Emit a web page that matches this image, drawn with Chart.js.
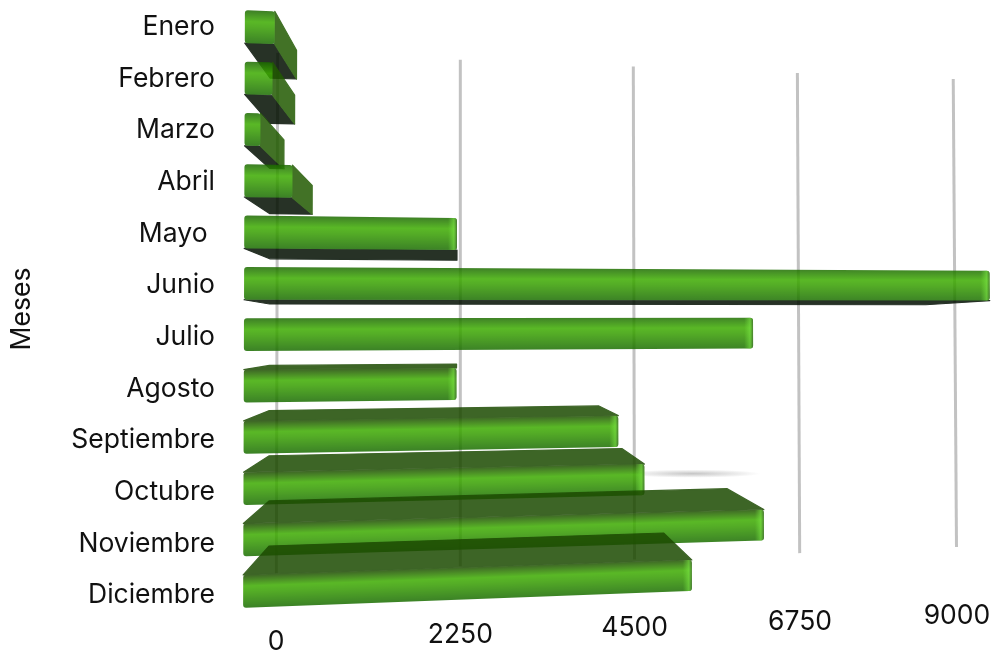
<!DOCTYPE html>
<html>
<head>
<meta charset="utf-8">
<style>
  body { margin: 0; background: #fff; }
</style>
<script src="https://cdn.jsdelivr.net/npm/chart.js@4"></script>
</head>
<body>
<canvas id="myChart" width="1000" height="650"></canvas>
<script>
const months = ['Enero', 'Febrero', 'Marzo', 'Abril', 'Mayo ', 'Junio', 'Julio', 'Agosto', 'Septiembre', 'Octubre', 'Noviembre', 'Diciembre'];
const sales = [304, 283, 161, 489, 2208, 8303, 5486, 2203, 3960, 4249, 5601, 4778];
const xTicks = [0, 2250, 4500, 6750, 9000];
const axisMax = 9000;

const fontName = 'Inter';
const fontSize = 26.5;
const frontWidth = 892;      // on screen width of 0..axisMax on the front plane
const foreshorten = 0.112;
const keystone = 0.000014;
const vanish = { x: 457, y: 335 };
const barDepth = 0.12;
const wallDepth = 0.155;
const labelDrop = 69;
const labelRight = 215;
const labelDrift = 0.007;

function makePoint(area) {
	const midY = (area.top + area.bottom) / 2;
	return (px, py, depth = 0, drop = 0) => {
		const t = (px - area.left) / area.width;
		const w = 1 + foreshorten * t;
		let x = area.left + frontWidth * t / w;
		let y = midY + (py - midY) / w;
		x += (vanish.x - x) * depth;
		y += (vanish.y - y) * depth;
		y += drop;
		x = vanish.x + (x - vanish.x) * (1 + keystone * (y - midY));
		return { x, y };
	};
}

function poly(ctx, pts, fill) {
	ctx.beginPath();
	pts.forEach((p, i) => (i ? ctx.lineTo(p.x, p.y) : ctx.moveTo(p.x, p.y)));
	ctx.closePath();
	ctx.fillStyle = fill;
	ctx.fill();
	// closes the hairline between neighbouring faces
	ctx.strokeStyle = fill;
	ctx.lineWidth = 1.2;
	ctx.lineJoin = 'round';
	ctx.stroke();
}

function roundedPath(ctx, pts, r) {
	ctx.beginPath();
	const n = pts.length;
	ctx.moveTo((pts[n - 1].x + pts[0].x) / 2, (pts[n - 1].y + pts[0].y) / 2);
	pts.forEach((p, i) => {
		const next = pts[(i + 1) % n];
		ctx.arcTo(p.x, p.y, next.x, next.y, r);
	});
	ctx.closePath();
}

function drawBar(ctx, bar, pt) {
	const top = bar.y - bar.height / 2;
	const bot = bar.y + bar.height / 2;
	const fTL = pt(bar.base, top), fTR = pt(bar.x, top), fBL = pt(bar.base, bot), fBR = pt(bar.x, bot);
	const bTL = pt(bar.base, top, barDepth), bTR = pt(bar.x, top, barDepth), bBL = pt(bar.base, bot, barDepth), bBR = pt(bar.x, bot, barDepth);
	const topFace = fTL.y > vanish.y;
	if (topFace) poly(ctx, [fTL, bTL, bTR, fTR], 'rgb(28,74,0)');
	if (fBL.y < vanish.y) poly(ctx, [fBL, bBL, bBR, fBR], 'rgb(2,15,0)');
	if (fTR.x < vanish.x - 1) poly(ctx, [fTR, bTR, bBR, fBR], 'rgb(33,90,0)');

	// front face, shading runs across the tilted bar
	const slope = ((fTR.y + fBR.y) - (fTL.y + fBL.y)) / 2 / Math.max(1, fTR.x - fTL.x);
	const h = (fBL.y - fTL.y) / (1 + slope * slope);
	const grad = ctx.createLinearGradient(fTL.x, fTL.y, fTL.x - slope * h, fTL.y + h);
	grad.addColorStop(0, topFace ? 'rgb(28,74,0)' : 'rgb(28,105,0)');
	grad.addColorStop(0.34, 'rgb(61,172,0)');
	grad.addColorStop(0.5, 'rgb(55,159,0)');
	grad.addColorStop(1, 'rgb(26,108,0)');
	roundedPath(ctx, [fTL, fTR, fBR, fBL], 3);
	ctx.fillStyle = grad;
	ctx.fill();

	// lit rim at the open end of the long bars
	if (fTR.x > vanish.x - 1) {
		ctx.save();
		roundedPath(ctx, [fTL, fTR, fBR, fBL], 3);
		ctx.clip();
		const x1 = Math.max(fTR.x, fBR.x);
		const rim = ctx.createLinearGradient(x1 - 9, 0, x1, 0);
		rim.addColorStop(0, 'rgba(90,220,30,0)');
		rim.addColorStop(0.65, 'rgba(100,225,35,0.6)');
		rim.addColorStop(1, 'rgba(30,80,10,0.8)');
		ctx.fillStyle = rim;
		ctx.fillRect(x1 - 9, Math.min(fTR.y, fTL.y), 9, fBL.y - fTL.y + 20);
		ctx.restore();
	}
}

const bars3d = {
	id: 'bars3d',
	beforeDatasetsDraw(chart) {
		const { ctx, chartArea: area, scales } = chart;
		const pt = makePoint(area);
		ctx.save();
		// wall lines
		ctx.strokeStyle = '#c2c2c2';
		ctx.lineWidth = 3;
		xTicks.forEach(v => {
			const px = scales.x.getPixelForValue(v);
			const a = pt(px, area.top, wallDepth);
			const b = pt(px, area.bottom, wallDepth);
			ctx.beginPath();
			ctx.moveTo(a.x, a.y);
			ctx.lineTo(b.x, b.y);
			ctx.stroke();
		});
		// soft smear behind Octubre
		const oct = chart.getDatasetMeta(0).data[9];
		const end = pt(oct.x, oct.y);
		ctx.translate(end.x + 48, end.y - 6);
		ctx.scale(1, 0.06);
		const g = ctx.createRadialGradient(0, 0, 0, 0, 0, 68);
		g.addColorStop(0, 'rgba(150,150,150,0.55)');
		g.addColorStop(1, 'rgba(150,150,150,0)');
		ctx.fillStyle = g;
		ctx.fillRect(-70, -70, 140, 140);
		ctx.restore();
	},
	afterDatasetsDraw(chart) {
		const { ctx, chartArea: area, scales } = chart;
		const pt = makePoint(area);

		// each bar is flattened first so its faces share one transparency
		const layer = document.createElement('canvas');
		layer.width = chart.width;
		layer.height = chart.height;
		const lctx = layer.getContext('2d');
		ctx.save();
		ctx.globalAlpha = 0.85;
		chart.getDatasetMeta(0).data.forEach(bar => {
			lctx.clearRect(0, 0, layer.width, layer.height);
			drawBar(lctx, bar, pt);
			ctx.drawImage(layer, 0, 0, chart.width, chart.height);
		});
		ctx.globalAlpha = 1;

		ctx.fillStyle = '#111';
		ctx.font = fontSize + 'px ' + fontName;
		ctx.textBaseline = 'middle';

		// month labels
		ctx.textAlign = 'right';
		scales.y.ticks.forEach((tick, i) => {
			const py = scales.y.getPixelForTick(i);
			ctx.fillText(months[i], labelRight, py + (py - area.top) * labelDrift);
		});

		// value axis labels sit along the foot of the wall
		ctx.textAlign = 'center';
		scales.x.ticks.forEach(tick => {
			const p = pt(scales.x.getPixelForValue(tick.value), area.bottom, wallDepth, labelDrop);
			ctx.fillText(String(tick.value), p.x, p.y);
		});
		ctx.restore();
	}
};

new Chart(document.getElementById('myChart'), {
	type: 'bar',
	plugins: [bars3d],
	data: {
		labels: months,
		datasets: [{
			label: 'Meses',
			data: sales,
			backgroundColor: 'rgba(0,0,0,0)',
			categoryPercentage: 1,
			barPercentage: 0.64
		}]
	},
	options: {
		indexAxis: 'y',
		responsive: false,
		animation: false,
		devicePixelRatio: 1,
		layout: { padding: { top: 1, right: 10 } },
		plugins: { legend: { display: false }, tooltip: { enabled: false } },
		scales: {
			x: {
				min: 0,
				max: axisMax,
				afterBuildTicks: scale => { scale.ticks = xTicks.map(value => ({ value })); },
				afterFit: scale => { scale.height = 33; scale.paddingLeft = 0; scale.paddingRight = 0; },
				grid: { display: false },
				border: { display: false },
				ticks: { display: false }
			},
			y: {
				afterFit: scale => { scale.width = 244; scale.paddingTop = 0; scale.paddingBottom = 0; },
				grid: { display: false, drawTicks: false, tickLength: 0 },
				border: { display: false },
				ticks: { display: false },
				title: { display: true, text: 'Meses', color: '#111', padding: { top: 6, bottom: 0 }, font: { family: fontName, size: fontSize } }
			}
		}
	}
});
</script>
</body>
</html>
